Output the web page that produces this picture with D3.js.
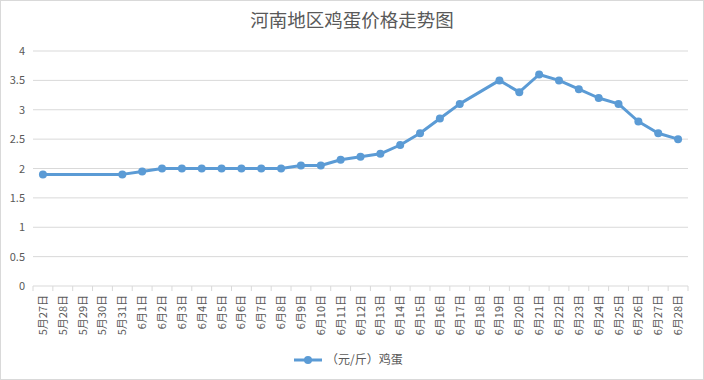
<!DOCTYPE html>
<html><head><meta charset="utf-8">
<script src="https://cdn.jsdelivr.net/npm/d3@7"></script>
<style>body{margin:0;background:#fff}svg{display:block}</style>
</head><body>
<script>
const title = "河南地区鸡蛋价格走势图";
const categories = ["5月27日","5月28日","5月29日","5月30日","5月31日","6月1日","6月2日","6月3日","6月4日","6月5日","6月6日","6月7日","6月8日","6月9日","6月10日","6月11日","6月12日","6月13日","6月14日","6月15日","6月16日","6月17日","6月18日","6月19日","6月20日","6月21日","6月22日","6月23日","6月24日","6月25日","6月26日","6月27日","6月28日"];
const prices = [1.9,null,null,null,1.9,1.95,2.0,2.0,2.0,2.0,2.0,2.0,2.0,2.05,2.05,2.15,2.2,2.25,2.4,2.6,2.85,3.1,null,3.5,3.3,3.6,3.5,3.35,3.2,3.1,2.8,2.6,2.5];
const yTicks = [0,0.5,1,1.5,2,2.5,3,3.5,4];
const seriesName = "（元/斤）鸡蛋";

const W=704,H=380;
const font='"Noto Sans CJK SC","Microsoft YaHei",sans-serif';
const svg=d3.select("body").append("svg").attr("width",W).attr("height",H);
svg.append("rect").attr("x",0.5).attr("y",0.5).attr("width",W-1).attr("height",H-1).attr("fill","#fff").attr("stroke","#d9d9d9");
svg.append("text").attr("x",352).attr("y",27).attr("text-anchor","middle").attr("font-family",font).attr("font-size",18.5).attr("fill","#595959").text(title);

const x=d3.scaleBand().domain(categories).range([33,688]);
const y=d3.scaleLinear().domain([0,4]).range([286,51]);
const grid=svg.append("g");
yTicks.forEach(t=>{
  if(t>0) grid.append("line").attr("x1",33).attr("x2",688).attr("y1",y(t)).attr("y2",y(t)).attr("stroke","#d9d9d9").attr("stroke-width",1);
  svg.append("text").attr("x",25).attr("y",y(t)+4).attr("text-anchor","end").attr("font-family",font).attr("font-size",11).attr("fill","#595959").text(t);
});
// x axis
const ax=svg.append("g").attr("transform","translate(0,286)");
ax.append("line").attr("x1",33).attr("x2",688).attr("stroke","#d9d9d9");
const bounds=categories.map(c=>x(c)).concat([x(categories[categories.length-1])+x.bandwidth()]);
bounds.forEach(b=>ax.append("line").attr("x1",b).attr("x2",b).attr("y1",0).attr("y2",5).attr("stroke","#d9d9d9"));
categories.forEach(c=>{
  const cx=x(c)+x.bandwidth()/2;
  svg.append("text").attr("transform",`translate(${cx+4},295) rotate(-90)`).attr("text-anchor","end")
    .attr("font-family",font).attr("font-size",11).attr("fill","#595959").text(c);
});
const pts=categories.map((c,i)=>({c,v:prices[i]})).filter(d=>d.v!==null);
const line=d3.line().x(d=>x(d.c)+x.bandwidth()/2).y(d=>y(d.v));
svg.append("path").datum(pts).attr("d",line).attr("fill","none").attr("stroke","#5b9bd5").attr("stroke-width",3).attr("stroke-linejoin","round");
svg.selectAll("circle.p").data(pts).enter().append("circle").attr("cx",d=>x(d.c)+x.bandwidth()/2).attr("cy",d=>y(d.v)).attr("r",4).attr("fill","#5b9bd5");
// legend
const lg=svg.append("g");
lg.append("line").attr("x1",294).attr("x2",322).attr("y1",360).attr("y2",360).attr("stroke","#5b9bd5").attr("stroke-width",3);
lg.append("circle").attr("cx",308).attr("cy",360).attr("r",4).attr("fill","#5b9bd5");
lg.append("text").attr("x",326).attr("y",364).attr("font-family",font).attr("font-size",12).attr("fill","#595959").text(seriesName);
</script>
</body></html>
